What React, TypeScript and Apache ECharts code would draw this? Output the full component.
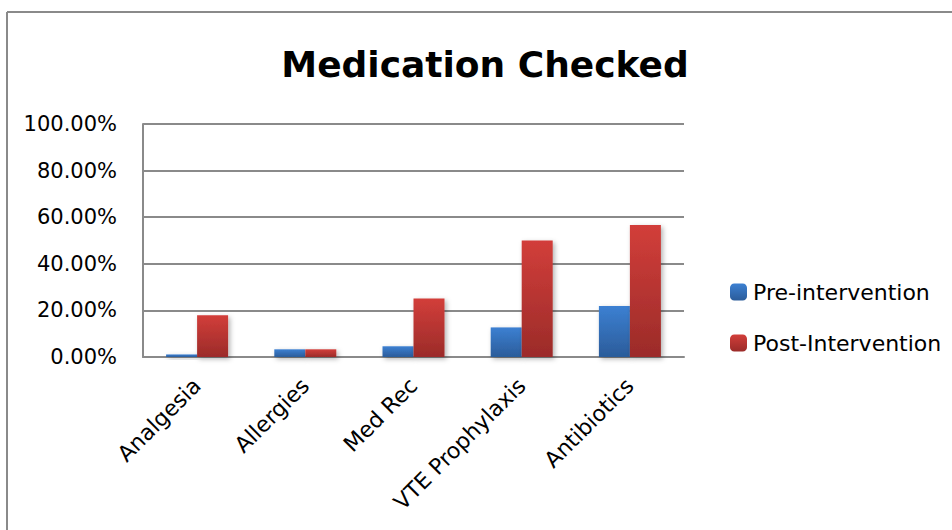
import React, { useEffect, useRef } from "react";
import * as echarts from "echarts";

const categories = ["Analgesia", "Allergies", "Med Rec", "VTE Prophylaxis", "Antibiotics"];
const preIntervention = [1.1, 3.3, 4.6, 12.7, 21.9];
const postIntervention = [17.9, 3.3, 25.1, 50.0, 56.6];
const seriesNames = ["Pre-intervention", "Post-Intervention"];
const titleText = "Medication Checked";

const FONT = "DejaVu Sans";

export default function App() {
  const ref = useRef<HTMLDivElement>(null);
  useEffect(() => {
    if (!ref.current) return;
    const chart = echarts.init(ref.current, null, { renderer: "svg" });
    const blue = new echarts.graphic.LinearGradient(0, 0, 0, 1, [
      { offset: 0, color: "#3C80D2" },
      { offset: 1, color: "#2B5C9A" },
    ]);
    const red = new echarts.graphic.LinearGradient(0, 0, 0, 1, [
      { offset: 0, color: "#D23E3A" },
      { offset: 1, color: "#9B2B29" },
    ]);
    const shadow = {
      shadowBlur: 5,
      shadowColor: "rgba(0,0,0,0.3)",
      shadowOffsetX: 2,
      shadowOffsetY: 2,
    };
    chart.setOption({
      animation: false,
      backgroundColor: "#ffffff",
      graphic: [
        {
          type: "line",
          shape: { x1: 7, y1: 12, x2: 7, y2: 530 },
          style: { stroke: "#8a8a8a", lineWidth: 2 },
        },
        {
          type: "line",
          shape: { x1: 7, y1: 12, x2: 952, y2: 12 },
          style: { stroke: "#8a8a8a", lineWidth: 2 },
        },
        {
          type: "text",
          x: 485,
          y: 64,
          style: {
            text: titleText,
            fontFamily: FONT,
            fontWeight: "bold",
            fontSize: 36,
            fill: "#000",
            align: "center",
            verticalAlign: "middle",
          },
        },
      ],
      grid: { left: 143, right: 268, top: 124, bottom: 173, containLabel: false },
      legend: {
        orient: "vertical",
        left: 725,
        top: 276,
        itemWidth: 17,
        itemHeight: 17,
        itemGap: 29,
        data: seriesNames,
        textStyle: { fontFamily: FONT, fontSize: 22, color: "#000", padding: [0, 0, 0, 1] },
      },
      xAxis: {
        type: "category",
        data: categories,
        axisLine: { lineStyle: { color: "#8a8a8a", width: 2 } },
        axisTick: { show: false },
        axisLabel: {
          rotate: 45,
          interval: 0,
          margin: 25,
          fontFamily: FONT,
          fontSize: 22,
          color: "#000",
        },
      },
      yAxis: {
        type: "value",
        min: 0,
        max: 100,
        interval: 20,
        axisLine: { show: true, lineStyle: { color: "#8a8a8a", width: 2 } },
        axisTick: { show: false },
        splitLine: { lineStyle: { color: "#8a8a8a", width: 2 } },
        axisLabel: {
          margin: 26,
          fontFamily: FONT,
          fontSize: 21,
          color: "#000",
          formatter: (v: number) => v.toFixed(2) + "%",
        },
      },
      series: [
        {
          name: seriesNames[0],
          type: "bar",
          data: preIntervention,
          barWidth: 31,
          barGap: "0%",
          itemStyle: { color: blue, ...shadow },
        },
        {
          name: seriesNames[1],
          type: "bar",
          data: postIntervention,
          barWidth: 31,
          barGap: "0%",
          itemStyle: { color: red, ...shadow },
        },
      ],
    });
    return () => chart.dispose();
  }, []);
  return <div ref={ref} style={{ width: 952, height: 530, position: "absolute", left: 0, top: 0 }} />;
}
